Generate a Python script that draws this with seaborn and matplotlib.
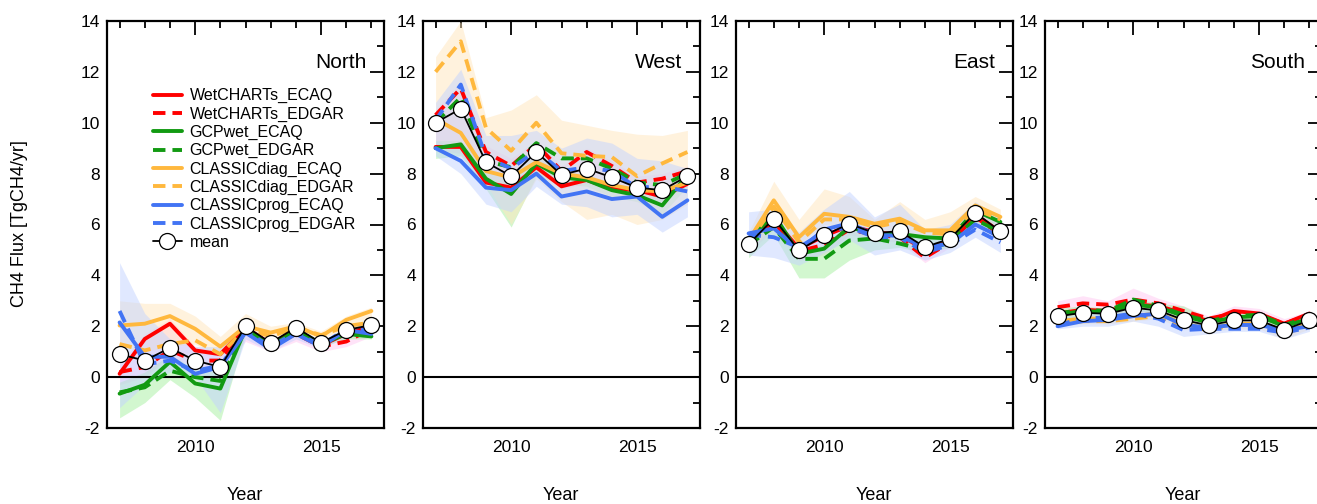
import matplotlib
matplotlib.use("Agg")
import matplotlib.pyplot as plt
import seaborn as sns
from matplotlib.ticker import MultipleLocator

years = [2007, 2008, 2009, 2010, 2011, 2012, 2013, 2014, 2015, 2016, 2017]
regions = ["North", "West", "East", "South"]

# ---- North ----
north_wet_ecaq = [0.13, 1.5, 2.1, 1.05, 0.9, 1.95, 1.3, 1.85, 1.25, 1.7, 2.0]
north_wet_edgar = [0.2, 0.4, 1.05, 0.65, 0.65, 1.9, 1.2, 1.7, 1.2, 1.4, 1.9]
north_gcp_ecaq = [-0.65, -0.3, 0.6, -0.25, -0.45, 1.9, 1.2, 1.85, 1.3, 1.7, 1.6]
north_gcp_edgar = [-0.6, -0.4, 0.25, 0.0, -0.15, 1.9, 1.25, 1.85, 1.3, 1.75, 1.65]
north_diag_ecaq = [2.03, 2.1, 2.4, 1.9, 1.2, 2.0, 1.75, 2.0, 1.6, 2.25, 2.6]
north_diag_edgar = [1.3, 1.05, 1.3, 1.45, 0.9, 1.9, 1.6, 1.95, 1.65, 2.0, 2.15]
north_prog_ecaq = [2.15, 0.8, 0.8, 0.13, 0.4, 1.75, 1.1, 1.7, 1.2, 1.85, 1.7]
north_prog_edgar = [2.6, 0.5, 0.65, 0.25, 0.45, 1.8, 1.2, 1.75, 1.25, 1.9, 1.85]
north_mean = [0.9, 0.65, 1.15, 0.65, 0.4, 2.0, 1.35, 1.95, 1.35, 1.85, 2.05]
north_wet_lo = [-0.3, 0.0, 0.8, 0.4, 0.3, 1.4, 1.0, 1.4, 1.0, 1.2, 1.6]
north_wet_hi = [0.5, 1.7, 2.3, 1.2, 1.0, 2.1, 1.4, 1.9, 1.3, 1.8, 2.1]
north_gcp_lo = [-1.6, -1.0, -0.1, -0.8, -1.7, 1.7, 1.1, 1.7, 1.2, 1.5, 1.5]
north_gcp_hi = [-0.2, 0.2, 0.9, 0.3, 0.2, 2.0, 1.3, 1.9, 1.4, 1.8, 1.7]
north_diag_lo = [1.2, 1.0, 1.2, 1.3, 0.8, 1.8, 1.5, 1.8, 1.5, 1.9, 2.0]
north_diag_hi = [3.0, 2.9, 2.9, 2.4, 1.6, 2.5, 2.0, 2.15, 1.8, 2.4, 2.75]
north_prog_lo = [-1.2, -0.3, 0.2, 0.0, -1.4, 1.5, 1.0, 1.5, 1.1, 1.6, 1.6]
north_prog_hi = [4.5, 2.5, 1.5, 1.2, 1.2, 2.0, 1.4, 1.9, 1.4, 2.0, 2.1]

# ---- West ----
west_wet_ecaq = [9.05, 9.05, 7.65, 7.45, 8.25, 7.5, 7.75, 7.4, 7.35, 7.1, 7.6]
west_wet_edgar = [10.3, 11.35, 8.85, 8.3, 9.15, 8.1, 8.85, 8.3, 7.65, 7.8, 8.1]
west_gcp_ecaq = [9.0, 9.15, 7.8, 7.2, 8.4, 7.85, 7.75, 7.35, 7.15, 6.75, 7.95]
west_gcp_edgar = [10.0, 11.0, 8.5, 8.25, 9.2, 8.6, 8.6, 8.2, 7.65, 7.55, 8.0]
west_diag_ecaq = [10.15, 9.6, 8.1, 7.85, 8.45, 8.0, 7.85, 7.55, 7.35, 7.3, 7.65]
west_diag_edgar = [12.0, 13.2, 9.8, 8.9, 10.0, 8.8, 8.7, 8.65, 7.9, 8.4, 8.85]
west_prog_ecaq = [9.0, 8.5, 7.45, 7.35, 8.0, 7.1, 7.3, 7.0, 7.1, 6.3, 6.95]
west_prog_edgar = [10.1, 11.5, 8.65, 8.2, 8.9, 8.1, 8.25, 8.1, 7.45, 7.5, 7.3]
west_mean = [10.0, 10.55, 8.45, 7.9, 8.85, 7.95, 8.2, 7.85, 7.45, 7.35, 7.9]
west_wet_lo = [8.9, 8.8, 7.5, 7.3, 8.1, 7.4, 7.6, 7.3, 7.2, 6.9, 7.5]
west_wet_hi = [10.5, 11.6, 9.1, 8.6, 9.3, 8.3, 9.0, 8.5, 7.9, 8.0, 8.3]
west_gcp_lo = [8.6, 8.7, 7.4, 5.9, 7.9, 7.6, 7.5, 7.1, 6.9, 6.4, 7.5]
west_gcp_hi = [9.3, 9.3, 8.2, 7.9, 8.8, 8.1, 8.0, 7.6, 7.4, 7.2, 8.1]
west_diag_lo = [9.3, 9.0, 7.6, 6.0, 7.8, 6.9, 6.2, 6.4, 6.0, 6.2, 6.8]
west_diag_hi = [12.6, 14.0, 10.2, 10.5, 11.1, 10.1, 9.9, 9.7, 9.55, 9.5, 9.7]
west_prog_lo = [8.7, 8.0, 6.8, 6.5, 7.5, 6.8, 6.7, 6.3, 6.4, 5.7, 6.3]
west_prog_hi = [10.8, 12.1, 9.5, 9.5, 9.7, 9.0, 9.4, 9.2, 8.6, 8.5, 8.2]

# ---- East ----
east_wet_ecaq = [5.4, 6.2, 5.05, 5.55, 5.95, 5.7, 5.6, 5.0, 5.35, 6.4, 5.7]
east_wet_edgar = [5.3, 6.1, 4.95, 5.2, 5.8, 5.6, 5.5, 4.7, 5.3, 6.3, 5.6]
east_gcp_ecaq = [5.37, 6.4, 4.85, 5.05, 5.9, 5.63, 5.63, 5.5, 5.45, 6.55, 6.1]
east_gcp_edgar = [5.2, 5.9, 4.65, 4.65, 5.37, 5.45, 5.25, 5.0, 5.3, 6.2, 5.7]
east_diag_ecaq = [5.37, 6.95, 5.5, 6.42, 6.3, 6.03, 6.23, 5.77, 5.77, 6.75, 6.3]
east_diag_edgar = [5.3, 6.7, 5.3, 6.2, 6.2, 5.9, 6.1, 5.7, 5.6, 6.6, 6.2]
east_prog_ecaq = [5.65, 5.85, 5.0, 5.8, 6.05, 5.6, 5.55, 5.1, 5.25, 6.0, 5.5]
east_prog_edgar = [5.6, 5.5, 5.1, 5.7, 5.9, 5.5, 5.5, 4.9, 5.2, 5.8, 5.3]
east_mean = [5.22, 6.23, 4.98, 5.57, 6.03, 5.66, 5.74, 5.11, 5.44, 6.46, 5.73]
east_wet_lo = [4.9, 5.8, 4.6, 4.8, 5.6, 5.4, 5.3, 4.5, 5.1, 6.1, 5.4]
east_wet_hi = [5.5, 6.4, 5.2, 5.6, 6.1, 5.8, 5.7, 5.2, 5.5, 6.6, 5.9]
east_gcp_lo = [4.7, 5.6, 3.9, 3.9, 4.6, 5.0, 5.1, 4.9, 5.1, 6.0, 5.5]
east_gcp_hi = [5.4, 6.5, 5.0, 5.2, 6.0, 5.7, 5.7, 5.5, 5.5, 6.6, 6.2]
east_diag_lo = [4.9, 6.0, 5.2, 6.0, 5.9, 5.7, 5.7, 5.5, 5.4, 6.3, 5.8]
east_diag_hi = [5.7, 7.7, 6.2, 7.4, 7.1, 6.2, 6.9, 6.2, 6.5, 7.1, 6.6]
east_prog_lo = [4.8, 4.7, 4.4, 4.9, 5.4, 4.8, 5.0, 4.6, 4.9, 5.5, 4.9]
east_prog_hi = [6.5, 6.6, 5.7, 6.6, 7.3, 6.3, 6.8, 5.8, 6.0, 6.9, 6.3]

# ---- South ----
south_wet_ecaq = [2.5, 2.65, 2.6, 2.85, 2.8, 2.5, 2.2, 2.6, 2.5, 2.1, 2.5]
south_wet_edgar = [2.75, 2.9, 2.85, 3.05, 2.9, 2.6, 2.3, 2.5, 2.45, 2.1, 2.45]
south_gcp_ecaq = [2.45, 2.6, 2.55, 2.85, 2.75, 2.4, 2.15, 2.35, 2.4, 2.0, 2.3]
south_gcp_edgar = [2.5, 2.65, 2.6, 3.05, 2.8, 2.45, 2.2, 2.4, 2.45, 2.05, 2.35]
south_diag_ecaq = [2.2, 2.3, 2.3, 2.4, 2.5, 2.1, 1.9, 2.1, 2.1, 1.8, 2.1]
south_diag_edgar = [2.1, 2.2, 2.2, 2.3, 2.4, 2.0, 1.85, 2.05, 2.05, 1.7, 2.05]
south_prog_ecaq = [2.0, 2.2, 2.25, 2.4, 2.5, 2.05, 1.95, 2.05, 2.05, 1.85, 2.0]
south_prog_edgar = [2.05, 2.3, 2.35, 2.5, 2.3, 1.85, 1.9, 1.9, 1.9, 1.75, 1.95]
south_mean = [2.39, 2.53, 2.49, 2.73, 2.62, 2.25, 2.03, 2.23, 2.23, 1.86, 2.23]
south_wet_lo = [2.2, 2.3, 2.3, 2.5, 2.5, 2.2, 2.0, 2.2, 2.2, 1.8, 2.1]
south_wet_hi = [3.0, 3.2, 3.0, 3.5, 3.1, 2.8, 2.4, 2.8, 2.7, 2.3, 2.6]
south_gcp_lo = [2.2, 2.4, 2.4, 2.6, 2.5, 2.2, 2.0, 2.2, 2.2, 1.9, 2.2]
south_gcp_hi = [2.7, 2.8, 2.7, 3.1, 2.9, 2.8, 2.3, 2.5, 2.5, 2.1, 2.4]
south_diag_lo = [2.0, 2.1, 2.1, 2.2, 2.3, 1.9, 1.8, 1.9, 1.9, 1.5, 1.9]
south_diag_hi = [2.3, 2.4, 2.4, 2.5, 2.6, 2.2, 2.0, 2.2, 2.2, 1.9, 2.2]
south_prog_lo = [1.9, 2.0, 2.0, 2.2, 2.0, 1.6, 1.7, 1.8, 1.8, 1.5, 1.8]
south_prog_hi = [2.3, 2.5, 2.5, 2.7, 2.6, 2.2, 2.0, 2.2, 2.2, 1.9, 2.1]

models = ["WetCHARTs", "GCPwet", "CLASSICdiag", "CLASSICprog"]
model_colors = {"WetCHARTs": "#ff0000", "GCPwet": "#129a12",
                "CLASSICdiag": "#ffb83d", "CLASSICprog": "#4274f4"}
band_colors = {"WetCHARTs": "#ffc8f2", "GCPwet": "#a6f0a0",
               "CLASSICdiag": "#ffe6bd", "CLASSICprog": "#c3d3ff"}

data = {
    "North": {
        "lines": [north_wet_ecaq, north_wet_edgar, north_gcp_ecaq, north_gcp_edgar,
                  north_diag_ecaq, north_diag_edgar, north_prog_ecaq, north_prog_edgar],
        "bands": [(north_wet_lo, north_wet_hi), (north_gcp_lo, north_gcp_hi),
                  (north_diag_lo, north_diag_hi), (north_prog_lo, north_prog_hi)],
        "mean": north_mean},
    "West": {
        "lines": [west_wet_ecaq, west_wet_edgar, west_gcp_ecaq, west_gcp_edgar,
                  west_diag_ecaq, west_diag_edgar, west_prog_ecaq, west_prog_edgar],
        "bands": [(west_wet_lo, west_wet_hi), (west_gcp_lo, west_gcp_hi),
                  (west_diag_lo, west_diag_hi), (west_prog_lo, west_prog_hi)],
        "mean": west_mean},
    "East": {
        "lines": [east_wet_ecaq, east_wet_edgar, east_gcp_ecaq, east_gcp_edgar,
                  east_diag_ecaq, east_diag_edgar, east_prog_ecaq, east_prog_edgar],
        "bands": [(east_wet_lo, east_wet_hi), (east_gcp_lo, east_gcp_hi),
                  (east_diag_lo, east_diag_hi), (east_prog_lo, east_prog_hi)],
        "mean": east_mean},
    "South": {
        "lines": [south_wet_ecaq, south_wet_edgar, south_gcp_ecaq, south_gcp_edgar,
                  south_diag_ecaq, south_diag_edgar, south_prog_ecaq, south_prog_edgar],
        "bands": [(south_wet_lo, south_wet_hi), (south_gcp_lo, south_gcp_hi),
                  (south_diag_lo, south_diag_hi), (south_prog_lo, south_prog_hi)],
        "mean": south_mean},
}

sns.set_style("white")
plt.rcParams["font.family"] = ["Liberation Sans", "DejaVu Sans"]
plt.rcParams["text.color"] = "black"
plt.rcParams["axes.unicode_minus"] = False

fig = plt.figure(figsize=(13.17, 5.04), dpi=100)
lefts = [107, 423, 736, 1045]
W, H = 1317, 504

for region, left in zip(regions, lefts):
    ax = fig.add_axes([left / W, 1 - 428 / H, 277 / W, 407 / H])
    d = data[region]

    for m, (lo, hi) in zip(models, d["bands"]):
        ax.fill_between(years, lo, hi, color=band_colors[m], alpha=0.5, lw=0, zorder=1)

    ax.axhline(0, color="black", lw=1.5, zorder=2)

    for i, vals in enumerate(d["lines"]):
        m = models[i // 2]
        scen = "ECAQ" if i % 2 == 0 else "EDGAR"
        ls = "-" if scen == "ECAQ" else (0, (3.2, 1.8))
        sns.lineplot(x=years, y=vals, ax=ax, color=model_colors[m], lw=2.8,
                     linestyle=ls, label=f"{m}_{scen}", legend=False, zorder=3)

    sns.lineplot(x=years, y=d["mean"], ax=ax, color="black", lw=1.3, marker="o",
                 markersize=11.5, markerfacecolor="white", markeredgecolor="black",
                 markeredgewidth=0.9, label="mean", legend=False, zorder=5)

    ax.set_xlim(2006.5, 2017.5)
    ax.set_ylim(-2, 14)
    ax.xaxis.set_major_locator(MultipleLocator(5))
    ax.xaxis.set_minor_locator(MultipleLocator(1))
    ax.yaxis.set_major_locator(MultipleLocator(2))
    ax.yaxis.set_minor_locator(MultipleLocator(1))
    ax.tick_params(which="both", direction="in", top=True, right=True,
                   width=1.3, color="black", labelcolor="black", labelsize=12.5)
    ax.tick_params(which="major", length=10)
    ax.tick_params(which="minor", length=5)
    ax.tick_params(axis="x", pad=9)
    ax.tick_params(axis="y", pad=5)
    for sp in ax.spines.values():
        sp.set_linewidth(1.6)
        sp.set_color("black")
        sp.set_visible(True)
    ax.set_xlabel("")
    ax.set_ylabel("")

    ax.text(0.937, 0.884, region, transform=ax.transAxes, ha="right",
            va="baseline", fontsize=15, zorder=6)
    fig.text((left + 138) / W, 1 - 500 / H, "Year", ha="center", va="baseline",
             fontsize=13)

    if region == "North":
        leg = ax.legend(loc="upper left", bbox_to_anchor=(0.166, 0.835), frameon=False,
                        fontsize=11.5, borderpad=0, borderaxespad=0, labelspacing=0.2,
                        handlelength=1.8, handletextpad=0.5)
        for t in leg.get_texts():
            t.set_color("black")

fig.text(20 / W, 1 - 224 / H, "CH4 Flux [TgCH4/yr]", rotation=90, ha="center",
         va="center", fontsize=13)

fig.savefig("out.png", dpi=100)
